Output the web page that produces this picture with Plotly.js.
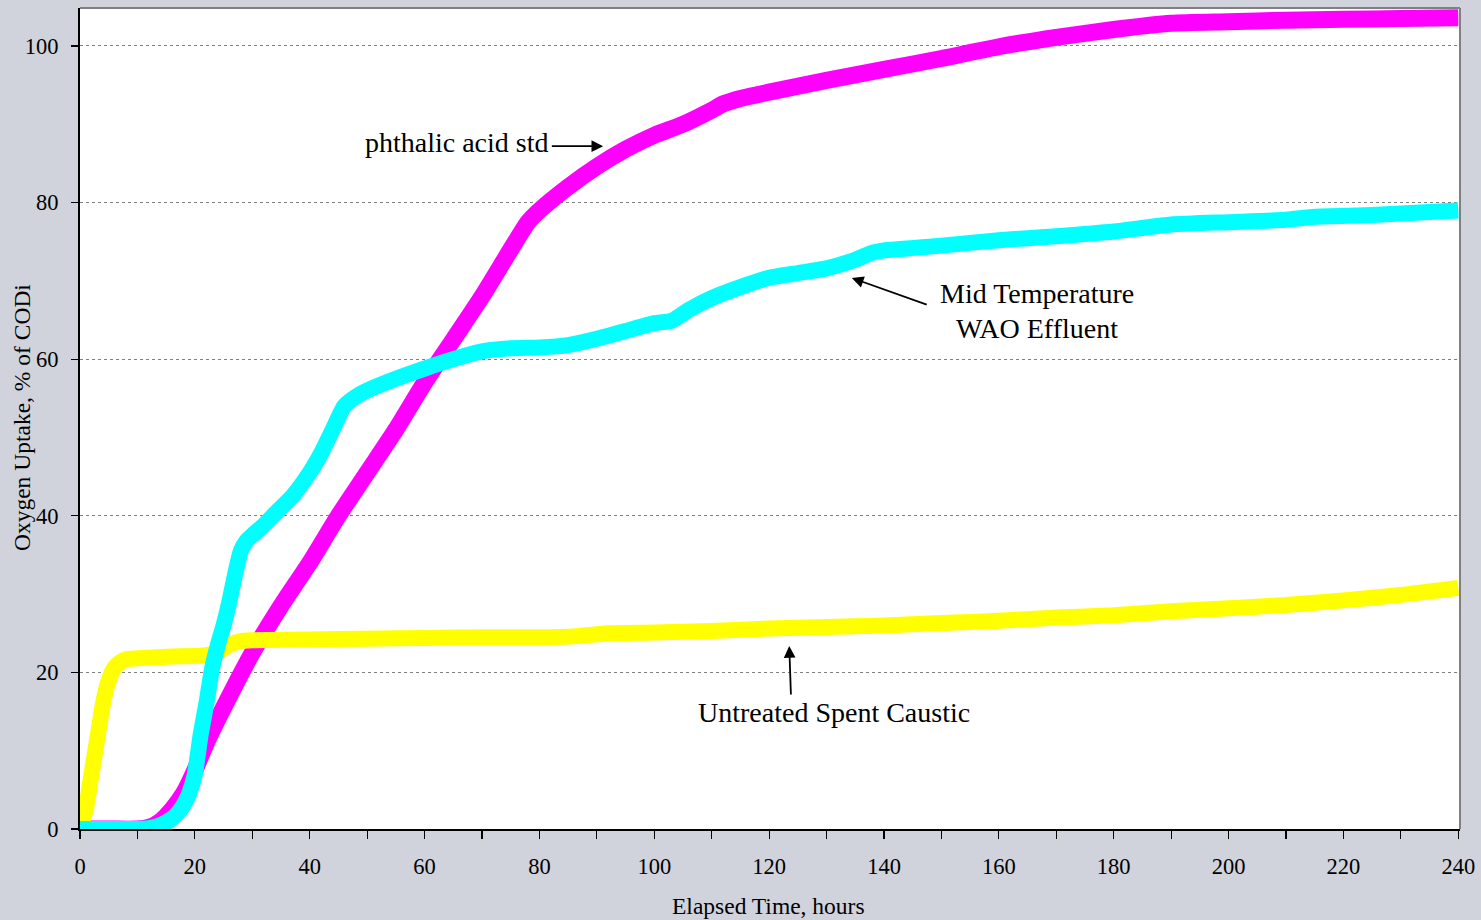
<!DOCTYPE html>
<html>
<head>
<meta charset="utf-8">
<script src="https://cdn.plot.ly/plotly-3.0.1.min.js"></script>
<style>html,body{margin:0;padding:0;background:#D0D3DC;}#chart{width:1481px;height:920px;}</style>
</head>
<body>
<div id="chart"></div>
<script>
// Phthalic acid std (magenta)
const phthalicHours = [0,5,10,12,14,16,18,20,22,25,30,35,40,45,50,55,60,65,70,75,78,80,85,90,95,100,105,110,112,115,120,130,140,150,160,170,180,190,200,210,220,230,240];
const phthalicUptake = [0,0,0,0.2,1,2.5,4.5,7.5,11,15.5,22.5,28.5,34,40,45.5,51,57,62.5,68,74,77.5,79,82,84.6,86.8,88.6,90,91.8,92.6,93.3,94.1,95.6,97,98.4,99.9,101.1,102.1,102.9,103.1,103.3,103.4,103.5,103.6];

// Mid Temperature WAO Effluent (cyan)
const waoHours = [0,5,10,12,14,16,17,18,19,20,21,22,23,24,25,26,27,28,29,30,32,34,37,40,42,44,46,48,50,55,60,65,70,75,80,85,90,95,100,103,106,110,115,120,125,130,135,138,140,150,160,170,180,190,200,210,215,225,240];
const waoUptake = [0,0,0,0.1,0.5,1.3,2,3,4.5,7,12,16,20.5,23.5,26,29,32.5,35.5,36.8,37.5,38.8,40.3,42.5,45.5,48,51,54,55.2,56,57.5,58.8,60,61,61.4,61.5,61.8,62.6,63.6,64.6,64.9,66.3,67.8,69.2,70.4,71,71.6,72.7,73.6,73.9,74.5,75.2,75.7,76.3,77.2,77.5,77.8,78.2,78.4,79];

// Untreated Spent Caustic (yellow)
const causticHours = [0,1,2,3,4,5,6,7,8,10,15,20,22,24,26,28,30,40,50,60,70,80,86,92,100,110,120,130,140,150,160,170,180,190,200,210,220,230,240];
const causticUptake = [0,2.5,7,11.5,16,19,20.6,21.3,21.7,21.8,22,22.1,22.2,22.6,23.5,24,24.1,24.2,24.3,24.4,24.5,24.5,24.6,25,25.1,25.3,25.6,25.8,26,26.3,26.6,27,27.3,27.8,28.2,28.6,29.2,29.9,30.8];

const xTickVals = [0,20,40,60,80,100,120,140,160,180,200,220,240];
const yTickVals = [0,20,40,60,80,100];

const serif = 'Liberation Serif, Times New Roman, serif';

const traces = [
  {x: phthalicHours, y: phthalicUptake, mode: 'lines', line: {color: '#FF00FF', width: 17, shape: 'spline', smoothing: 0.6}, name: 'phthalic acid std'},
  {x: causticHours, y: causticUptake, mode: 'lines', line: {color: '#FFFF00', width: 16, shape: 'spline', smoothing: 0.5}, name: 'Untreated Spent Caustic'},
  {x: waoHours, y: waoUptake, mode: 'lines', line: {color: '#00FFFF', width: 16, shape: 'spline', smoothing: 0.5}, name: 'Mid Temperature WAO Effluent'}
];

const layout = {
  width: 1481, height: 920,
  paper_bgcolor: '#D0D3DC', plot_bgcolor: '#FFFFFF',
  margin: {l: 80, r: 21, t: 8, b: 91},
  showlegend: false,
  font: {family: serif, color: '#000', size: 22},
  xaxis: {
    range: [0, 240.3], tickvals: xTickVals, ticks: 'outside', ticklen: 8, tickwidth: 1.2, tickcolor: '#000',
    minor: {dtick: 10, ticks: 'outside', ticklen: 8, tickwidth: 1.2, tickcolor: '#000', showgrid: false},
    showgrid: false, zeroline: false, showline: true, linecolor: '#000', linewidth: 2,
    tickfont: {family: serif, size: 22.5}, ticklabelstandoff: 8, fixedrange: true
  },
  yaxis: {
    range: [0, 104.85], tickvals: yTickVals, ticks: 'outside', ticklen: 7, tickwidth: 1.2, tickcolor: '#000',
    showgrid: true, gridcolor: '#808080', gridwidth: 1, griddash: 'dot',
    zeroline: false, showline: true, linecolor: '#000', linewidth: 2,
    tickfont: {family: serif, size: 22.5}, ticklabelstandoff: 8, fixedrange: true
  },
  shapes: [
    {type: 'line', xref: 'paper', yref: 'paper', x0: 0, x1: 1, y0: 1, y1: 1, line: {color: '#808080', width: 2}},
    {type: 'line', xref: 'paper', yref: 'paper', x0: 1, x1: 1, y0: 0, y1: 1, line: {color: '#808080', width: 2}}
  ],
  annotations: [
    {xref: 'paper', yref: 'paper', x: -0.042, y: 0.5006, text: 'Oxygen Uptake, % of CODi', textangle: -90, showarrow: false, xanchor: 'center', yanchor: 'middle', font: {family: serif, size: 23.5}},
    {xref: 'paper', yref: 'paper', x: 0.4986, y: -0.0938, text: 'Elapsed Time, hours', showarrow: false, xanchor: 'center', yanchor: 'middle', font: {family: serif, size: 23.5}},
    {x: 65.7, y: 87.7, text: 'phthalic acid std', showarrow: false, xanchor: 'center', yanchor: 'middle', font: {family: serif, size: 28}},
    {x: 91.1, y: 87.2, ax: 81.9, ay: 87.2, axref: 'x', ayref: 'y', text: '', showarrow: true, arrowhead: 2, arrowsize: 1.3, arrowwidth: 1.8, arrowcolor: '#000'},
    {x: 166.7, y: 68.45, text: 'Mid Temperature', showarrow: false, xanchor: 'center', yanchor: 'middle', font: {family: serif, size: 28}},
    {x: 166.7, y: 63.86, text: 'WAO Effluent', showarrow: false, xanchor: 'center', yanchor: 'middle', font: {family: serif, size: 28}},
    {x: 134.4, y: 70.37, ax: 147.7, ay: 66.9, axref: 'x', ayref: 'y', text: '', showarrow: true, arrowhead: 2, arrowsize: 1.3, arrowwidth: 1.8, arrowcolor: '#000'},
    {x: 131.3, y: 14.94, text: 'Untreated Spent Caustic', showarrow: false, xanchor: 'center', yanchor: 'middle', font: {family: serif, size: 28}},
    {x: 123.5, y: 23.37, ax: 123.8, ay: 16.99, axref: 'x', ayref: 'y', text: '', showarrow: true, arrowhead: 2, arrowsize: 1.3, arrowwidth: 1.8, arrowcolor: '#000'}
  ]
};

Plotly.newPlot('chart', traces, layout, {displayModeBar: false, staticPlot: true});
</script>
</body>
</html>
